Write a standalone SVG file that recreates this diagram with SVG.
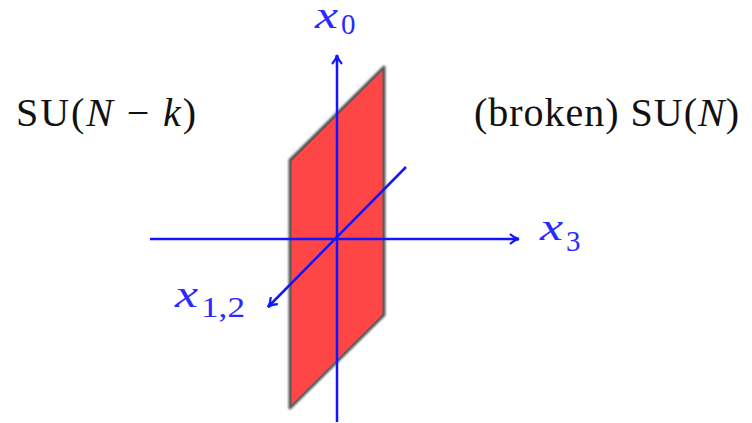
<svg xmlns="http://www.w3.org/2000/svg" width="752" height="423" viewBox="0 0 752 423">
<style>
.ax{stroke:#1414ff;stroke-width:2.5;fill:none}
.lbl{font-family:"Liberation Serif",serif;fill:#2a2aff}
.mx{font-style:italic;font-size:38px}
.sb{font-size:29px}
.txt{font-family:"Liberation Serif",serif;fill:#111;font-size:40px}
.it{font-style:italic}
</style>
<defs>
<marker id="ah" viewBox="0 0 12 12" refX="10" refY="6" markerWidth="12" markerHeight="12" markerUnits="userSpaceOnUse" orient="auto">
<path d="M1,1 Q5,5 10,6 Q5,7 1,11" fill="none" stroke="#1414ff" stroke-width="2.2"/>
</marker>
<filter id="bl" x="-10%" y="-10%" width="120%" height="120%"><feGaussianBlur stdDeviation="0.8"/></filter>
</defs>
<rect width="752" height="423" fill="#fff"/>
<g id="sheet">
<polygon points="290,160 384,67 384,315 290,408" fill="#555" filter="url(#bl)" stroke="#555" stroke-width="3" stroke-linejoin="round"/>
<polygon points="291.5,161 382.5,70.5 382.5,314.5 291.5,405" fill="#ff4646"/>
</g>
<g id="connectors">
<line class="ax" x1="337" y1="422" x2="337" y2="55" marker-end="url(#ah)"/>
<line class="ax" x1="150" y1="239" x2="519" y2="239" marker-end="url(#ah)"/>
<line class="ax" x1="406" y1="167" x2="268" y2="307" marker-end="url(#ah)"/>
</g>
<g id="label-x0"><text class="lbl"><tspan class="mx" x="315" y="28" textLength="23" lengthAdjust="spacingAndGlyphs">x</tspan><tspan class="sb" x="341" y="34">0</tspan></text></g>
<g id="label-x3"><text class="lbl"><tspan class="mx" x="540" y="240" textLength="23" lengthAdjust="spacingAndGlyphs">x</tspan><tspan class="sb" x="566" y="251">3</tspan></text></g>
<g id="label-x12"><text class="lbl"><tspan class="mx" x="175" y="307" textLength="23" lengthAdjust="spacingAndGlyphs">x</tspan><tspan class="sb" x="201" y="317" textLength="44" lengthAdjust="spacingAndGlyphs">1,2</tspan></text></g>
<g id="label-left"><text class="txt" x="16" y="126" textLength="180">SU(<tspan class="it">N</tspan> − <tspan class="it">k</tspan>)</text></g>
<g id="label-right"><text class="txt" x="474" y="126" textLength="265">(broken) SU(<tspan class="it">N</tspan>)</text></g>
</svg>
